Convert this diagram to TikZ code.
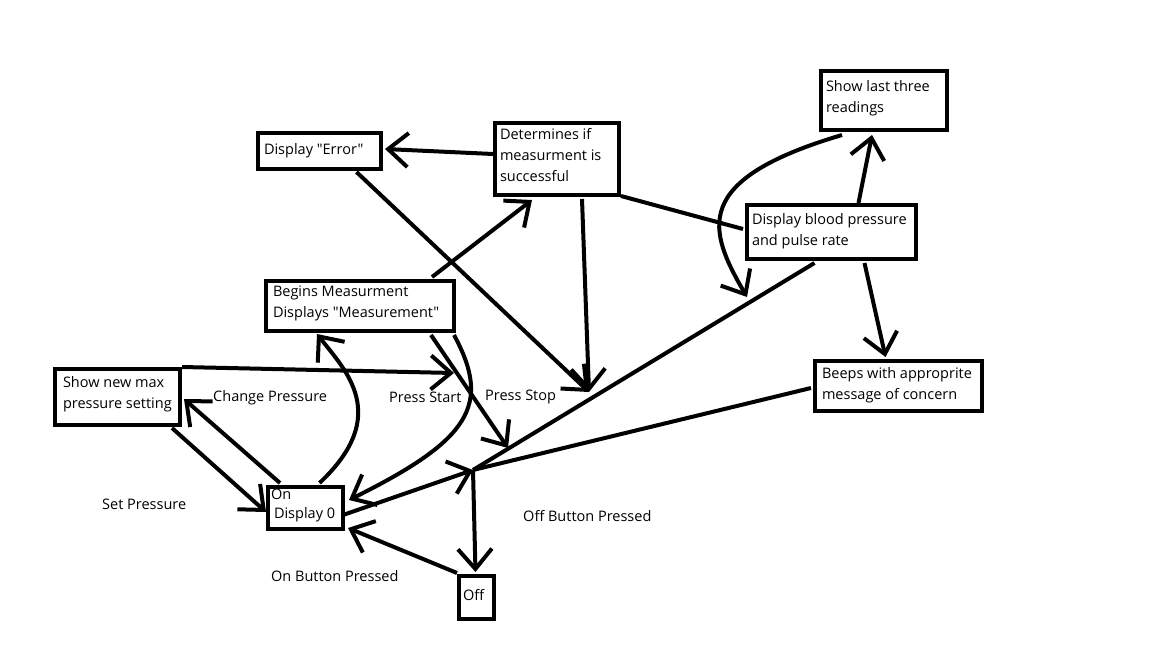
\documentclass[tikz,border=0pt]{standalone}
\usepackage{fontspec}
\setmainfont{Open Sans}[Ligatures=TeXOff]
\usetikzlibrary{arrows.meta,calc}
\tikzset{
  stbox/.style={draw, line width=4pt, inner sep=0pt, anchor=north west},
  conn/.style={line width=4pt},
  arr/.style={line width=4pt, -{Straight Barb[length=20pt,width=34pt]}},
  lbl/.style={anchor=base west, inner sep=0pt},
}
\newcommand{\bxt}[5]{\parbox[t][#2][t]{#1}{\raggedright\leftskip=#3\rule{0pt}{#4}#5}}
\begin{document}
\begin{tikzpicture}[x=1pt,y=-1pt,font=\fontsize{14.5}{21}\selectfont]
\useasboundingbox[fill=white] (0,0) rectangle (1152,648);
% states
\node[stbox] (last) at (819,69) {\bxt{126pt}{59pt}{5pt}{20pt}{Show last three\\readings}};
\node[stbox] (err) at (256,131) {\bxt{123pt}{36pt}{6pt}{21pt}{Display "Error"}};
\node[stbox] (det) at (493,121) {\bxt{124pt}{72pt}{5pt}{16pt}{Determines if\\measurment is\\successful}};
\node[stbox] (bp) at (745,203) {\bxt{169pt}{54pt}{5pt}{19pt}{Display blood pressure\\and pulse rate}};
\node[stbox] (beg) at (264,279) {\bxt{188pt}{50pt}{7pt}{15pt}{Begins Measurment\\Displays "Measurement"}};
\node[stbox] (beep) at (813,359) {\bxt{167pt}{50pt}{7pt}{17pt}{Beeps with approprite\\message of concern}};
\node[stbox] (smax) at (53,367) {\bxt{125pt}{56pt}{8pt}{18pt}{Show new max\\pressure setting}};
\node[stbox] (on) at (266,485) {\bxt{75pt}{42pt}{3pt}{12pt}{On\\[-2pt]\hspace*{3pt}Display 0}};
\node[stbox] (off) at (457,574) {\bxt{35pt}{43pt}{4pt}{24pt}{Off}};
% junction points
\coordinate (J) at (473,470);
\coordinate (p1) at (589,392);
\coordinate (p2) at (747,297);
\coordinate (p3) at (508,448);
\coordinate (p4) at (454,373);
% connectors
\draw[arr] ($(det.west)+(0,-5)$) -- ($(err.east)+(2,-2)$);
\draw[arr] ($(err.south)+(37,1)$) -- (p1);
\draw[arr] ($(det.south east)+(-39,2)$) -- (p1);
\draw[arr] ($(beg.north east)+(-24,-2)$) -- ($(det.south)+(-25,3)$);
\draw[conn] ($(det.south east)+(0,-1)$) -- ($(bp.west)+(-2,-3)$);
\draw[arr] ($(bp.north)+(27,0)$) -- ($(last.south)+(-12,3)$);
\draw[arr] ($(bp.south)+(33,2)$) -- ($(beep.north)+(-13,-2)$);
\draw[arr] ($(last.south west)+(23,3)$) .. controls (690,180) and (708,230) .. (p2);
\draw[conn] ($(bp.south)+(-17,2)$) -- (J);
\draw[conn] ($(beep.west)+(-2,2)$) -- (J);
\draw[arr] ($(on.east)+(-2,7)$) -- (J);
\draw[arr] (J) -- ($(off.north)+(-1,-2)$);
\draw[arr] ($(off.north west)+(0,-1)$) -- ($(on.south east)+(3,-3)$);
\draw[arr] ($(beg.south east)+(-2,2)$) .. controls (492,405) and (470,440) .. ($(on.east)+(4,-8)$);
\draw[arr] ($(beg.south east)+(-25,2)$) -- (p3);
\draw[arr] (smax.north east) -- (p4);
\draw[arr] ($(on.north)+(14,-2)$) .. controls (392,415) and (345,370) .. ($(beg.south)+(-43,1)$);
\draw[arr] ($(on.north west)+(14,-2)$) -- ($(smax.east)+(2,2)$);
\draw[arr] ($(smax.south east)+(-10,1)$) -- ($(on.west)+(0,4)$);
% labels
\node[lbl] (lcp) at (213,401) {Change Pressure};
\node[lbl] (lpst) at (389,402) {Press Start};
\node[lbl] (lpsp) at (485,400) {Press Stop};
\node[lbl] (lsp) at (102,509) {Set Pressure};
\node[lbl] (lon) at (271,581) {On Button Pressed};
\node[lbl] (loff) at (523,521) {Off Button Pressed};
\end{tikzpicture}
\end{document}
